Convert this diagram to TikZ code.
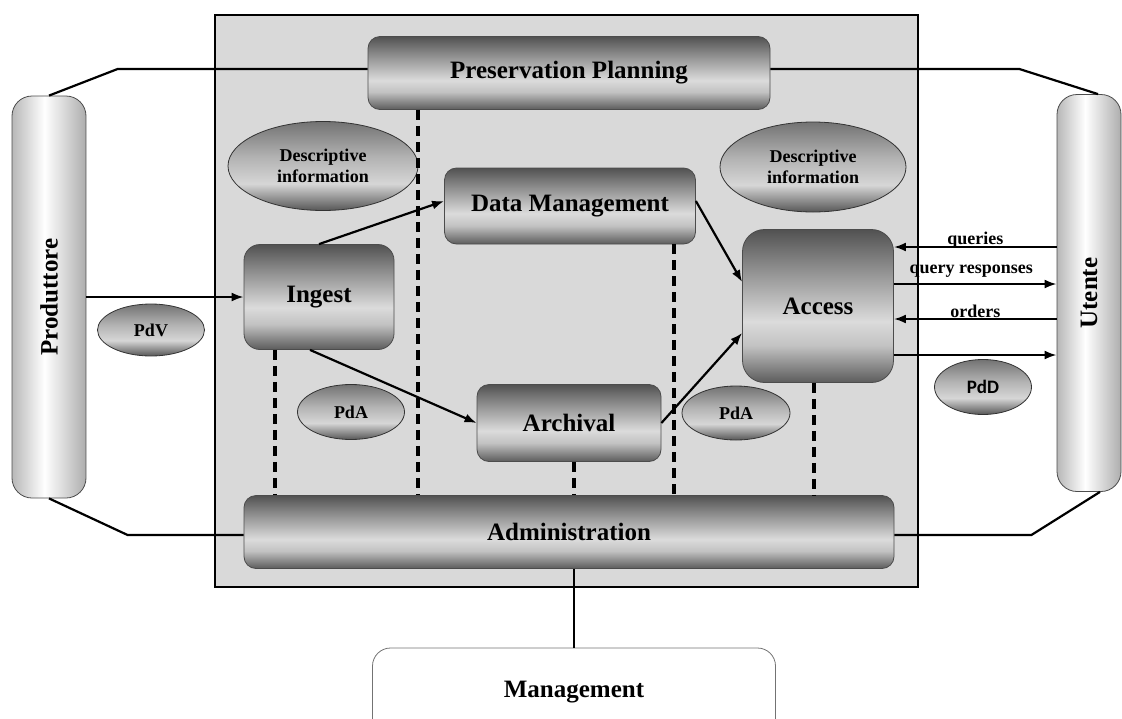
\documentclass[tikz,border=0pt]{standalone}
\usepackage{fontspec}
\setmainfont{Liberation Serif}
\newfontfamily\pdfont{Carlito}
\usepackage{tikz}
\usetikzlibrary{shapes.geometric,arrows.meta}

\pgfdeclareverticalshading{boxshade}{100bp}{color(0bp)=(black!64); color(25bp)=(black!64); color(37bp)=(black!24); color(45bp)=(black!14); color(62bp)=(black!44); color(75bp)=(black!68); color(100bp)=(black!68)}
\pgfdeclareverticalshading{ovalshade}{100bp}{color(0bp)=(black!66); color(25bp)=(black!66); color(40bp)=(black!16); color(55bp)=(black!30); color(75bp)=(black!55); color(100bp)=(black!55)}
\pgfdeclarehorizontalshading{tubeshade}{100bp}{color(0bp)=(black!28); color(25bp)=(black!28); color(47bp)=(white); color(75bp)=(black!32); color(100bp)=(black!32)}

\tikzstyle{proc} = [rectangle, rounded corners=12pt, draw=black!70, line width=0.8pt, shading=boxshade, font=\bfseries\fontsize{25}{27}\selectfont]
\tikzstyle{info} = [ellipse, draw=black!80, line width=0.8pt, shading=ovalshade, inner sep=0pt, align=center, font=\bfseries\fontsize{18}{21}\selectfont]
\tikzstyle{actor} = [rectangle, rounded corners=20pt, draw=black!70, line width=0.8pt, shading=tubeshade, minimum width=74pt, minimum height=402pt, font=\bfseries\fontsize{25}{27}\selectfont]
\tikzstyle{mgmt} = [rectangle, rounded corners=18pt, draw=black!55, line width=0.8pt, fill=white, font=\bfseries\fontsize{25}{27}\selectfont]
\tikzstyle{lbl} = [font=\bfseries\fontsize{18}{20}\selectfont, inner sep=0pt, anchor=base]
\tikzstyle{flow} = [line width=2.2pt]
\tikzstyle{dashline} = [line width=3.4pt, dash pattern=on 10pt off 6pt]

\begin{document}
\begin{tikzpicture}[x=1pt,y=-1pt,>={Latex[length=12pt,width=9pt]}]
  \useasboundingbox (0,0) rectangle (1122,718);
  \draw[line width=1.5pt, fill=black!15] (215,15) rectangle (918,587);

  \node[proc, minimum width=402pt, minimum height=73pt] (Planning) at (569,73) {Preservation Planning};
  \node[info, minimum width=190pt, minimum height=89pt] (DescL) at (323,166) {Descriptive\\information};
  \node[info, minimum width=186pt, minimum height=90pt] (DescR) at (813,167) {Descriptive\\information};
  \node[proc, minimum width=251pt, minimum height=76pt] (DataMgmt) at (570,206) {Data Management};
  \node[proc, minimum width=150pt, minimum height=105pt, rounded corners=16pt] (Ingest) at (319,297) {Ingest};
  \node[proc, minimum width=151pt, minimum height=153pt, rounded corners=22pt] (Access) at (818,306) {Access};
  \node[proc, minimum width=184pt, minimum height=77pt] (Archival) at (569,423) {Archival};
  \node[proc, minimum width=650pt, minimum height=73pt] (Admin) at (569,532) {Administration};
  \node[mgmt, minimum width=403pt, minimum height=88pt] (Management) at (574,692) {Management};
  \node[actor] (Produttore) at (49,297) {\rotatebox{90}{Produttore}};
  \node[actor, minimum width=64pt, minimum height=397pt] (Utente) at (1089,293) {\rotatebox{90}{Utente}};
  \node[info, minimum width=107pt, minimum height=52pt] (PdV) at (151,330) {PdV};
  \node[info, minimum width=107pt, minimum height=55pt] (PdAin) at (351,412) {PdA};
  \node[info, minimum width=108pt, minimum height=54pt] (PdAout) at (736,413) {PdA};
  \node[info, minimum width=97pt, minimum height=55pt, font=\pdfont\bfseries\fontsize{19}{21}\selectfont] (PdD) at (983,387) {PdD};

  \draw[flow] (Produttore.north) -- ([xshift=-250pt,yshift=4pt]Planning.west) -- ([yshift=4pt]Planning.west);
  \draw[flow] ([yshift=4pt]Planning.east) -- ++(249,0) -- ([xshift=9pt]Utente.north);
  \draw[flow] (Produttore.south) -- ([xshift=-116pt,yshift=-3pt]Admin.west) -- ([yshift=-3pt]Admin.west);
  \draw[flow] ([yshift=-3pt]Admin.east) -- ++(137,0) -- ([xshift=11pt]Utente.south);
  \draw[flow] (Admin.south -| Management.north) -- (Management.north);

  \draw[dashline] (Planning.south -| 418,0) -- (Admin.north -| 418,0);
  \draw[dashline] (Ingest.south -| 275,0) -- (Admin.north -| 275,0);
  \draw[dashline] (DataMgmt.south -| 674,0) -- (Admin.north -| 674,0);
  \draw[dashline] (Archival.south -| 574,0) -- (Admin.north -| 574,0);
  \draw[dashline] (Access.south -| 814,0) -- (Admin.north -| 814,0);

  \draw[flow,->] (Produttore.east |- Ingest.west) -- (Ingest.west);
  \draw[flow,->] (Ingest.north) -- ([yshift=5pt]DataMgmt.west);
  \draw[flow,->] ([xshift=-9pt]Ingest.south) -- (Archival.west);
  \draw[flow,->] ([yshift=5pt]DataMgmt.east) -- ([yshift=24pt]Access.west);
  \draw[flow,->] (Archival.east) -- ([yshift=-27pt]Access.west);

  \draw[flow,->] (Utente.west |- 0,247) -- node[lbl, yshift=3pt] {queries} (Access.east |- 0,247);
  \draw[flow,->] (Access.east |- 0,284) -- node[lbl, yshift=11pt, xshift=-4pt] {query responses} (Utente.west |- 0,284);
  \draw[flow,->] (Utente.west |- 0,319) -- node[lbl, yshift=2pt] {orders} (Access.east |- 0,319);
  \draw[flow,->] (Access.east |- 0,355) -- (Utente.west |- 0,355);
\end{tikzpicture}
\end{document}
